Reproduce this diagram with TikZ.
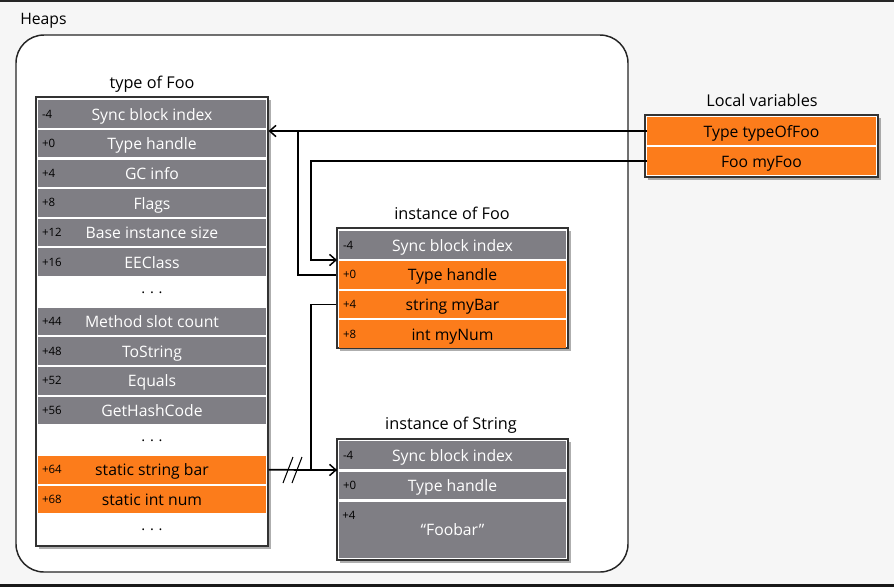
\documentclass[tikz,border=0pt]{standalone}
\usepackage{fontspec}
\setmainfont{Open Sans}
\usetikzlibrary{shadows,arrows.meta}
\definecolor{rowgray}{RGB}{127,126,132}
\definecolor{roworange}{RGB}{252,124,27}
\definecolor{bgchk}{RGB}{246,246,246}
\begin{document}
\begin{tikzpicture}[x=0.75pt,y=-0.75pt,
  pw/.style={minimum width=#1*0.75pt},
  ph/.style={minimum height=#1*0.75pt},
  frame/.style={draw=black!80, fill=white, line width=0.8pt, inner sep=0pt,
    drop shadow={shadow xshift=2.2pt, shadow yshift=-2.2pt, opacity=0.45, fill=black!70}},
  rowbase/.style={inner sep=0pt, ph=27.6, text height=9.2pt, text depth=0pt, font=\fontsize{11.8}{13}\selectfont},
  gr/.style={rowbase, fill=rowgray, text=white},
  og/.style={rowbase, fill=roworange, text=black},
  dots/.style={inner sep=0pt, text height=2pt, text depth=0pt, font=\fontsize{11}{12}\selectfont, text=black},
  off/.style={anchor=west, inner sep=0pt, text height=6pt, text depth=0pt, font=\fontsize{8.6}{9}\selectfont, text=black},
  title/.style={inner sep=0pt, text height=9.2pt, text depth=0pt, font=\fontsize{12.2}{14}\selectfont, text=black},
  conn/.style={draw=black, line width=1.3pt},
  arr/.style={conn, -{Straight Barb[length=4.8pt,width=8.5pt,line width=1.1pt]}},
]
\useasboundingbox (0,0) rectangle (894,587);
\fill[bgchk] (0,0) rectangle (894,587);
\fill[black!85] (0,0) rectangle (894,1.5);
\fill[black!90] (0,583.5) rectangle (894,587);

% Heaps
\node[title, anchor=west, font=\fontsize{11.8}{14}\selectfont] (heapslbl) at (20,18) {Heaps};
\draw[black!85, line width=1.1pt, fill=white, rounded corners=21pt] (16,35) rectangle (628,572);

% type of Foo
\node[title] (tftitle) at (152,82) {type of Foo};
\node[frame, pw=232, ph=449] (tf) at (152,321.5) {};
\foreach \i/\o/\t/\s in {0/-4/Sync block index/gr, 1/+0/Type handle/gr, 2/+4/GC info/gr,
   3/+8/Flags/gr, 4/+12/Base instance size/gr, 5/+16/EEClass/gr,
   7/+44/Method slot count/gr, 8/+48/ToString/gr, 9/+52/Equals/gr, 10/+56/GetHashCode/gr,
   12/+64/static string bar/og, 13/+68/static int num/og}{
  \node[\s, pw=228] (tf\i) at (152,{114+29.65*\i}) {\t};
  \node[off] (tfo\i) at ([xshift=3pt]tf\i.west) {\o};
}
\foreach \i in {6,11,14}{
  \node[dots] (tf\i) at (152,{114+29.65*\i}) {.\hspace{3.5pt}.\hspace{3.5pt}.};
}

% Local variables
\node[title] (lvtitle) at (762,100) {Local variables};
\node[frame, pw=233, ph=62] (lv) at (761.5,146) {};
\node[og, pw=229] (lv0) at (761.5,131) {Type typeOfFoo};
\node[og, pw=229] (lv1) at (761.5,161) {Foo myFoo};

% instance of Foo
\node[title] (iftitle) at (452,213) {instance of Foo};
\node[frame, pw=231, ph=120] (if) at (452.5,288) {};
\foreach \i/\o/\t/\s in {0/-4/Sync block index/gr, 1/+0/Type handle/og,
   2/+4/string myBar/og, 3/+8/int myNum/og}{
  \node[\s, pw=227] (if\i) at (452.5,{245+29.7*\i}) {\t};
  \node[off] (ifo\i) at ([xshift=3pt]if\i.west) {\o};
}

% instance of String
\node[title] (sttitle) at (451,423) {instance of String};
\node[frame, pw=231, ph=121] (st) at (452.5,499.5) {};
\node[gr, pw=227] (st0) at (452.5,455) {Sync block index};
\node[off] (sto0) at ([xshift=3pt]st0.west) {-4};
\node[gr, pw=227] (st1) at (452.5,485.5) {Type handle};
\node[off] (sto1) at ([xshift=3pt]st1.west) {+0};
\node[gr, pw=227, ph=56] (st2) at (452.5,529.5) {};
\node[off] (sto2) at (342,515) {+4};
\node[rowbase, text=white] (st2t) at (452.5,529) {“Foobar”};

% connectors
\coordinate (j1) at (298,131);
\coordinate (c2) at (311,200);
\coordinate (ifp) at (337,260);
\coordinate (c3) at (311,400);
\coordinate (sp) at (337,470);

\draw[arr] (lv0.west) -- (lv0.west -| tf.east);
\draw[conn] (if.west |- if1) -| (j1);
\draw[arr] (lv1.west) -| (c2) |- (ifp);
\draw[conn] (if.west |- if2) -| (c3) |- (sp);
\draw[arr] (tf.east |- tf12) -- (sp);
\draw[black, line width=0.8pt] (283,483) -- (293,457);
\draw[black, line width=0.8pt] (292,483) -- (302,457);
\end{tikzpicture}
\end{document}
